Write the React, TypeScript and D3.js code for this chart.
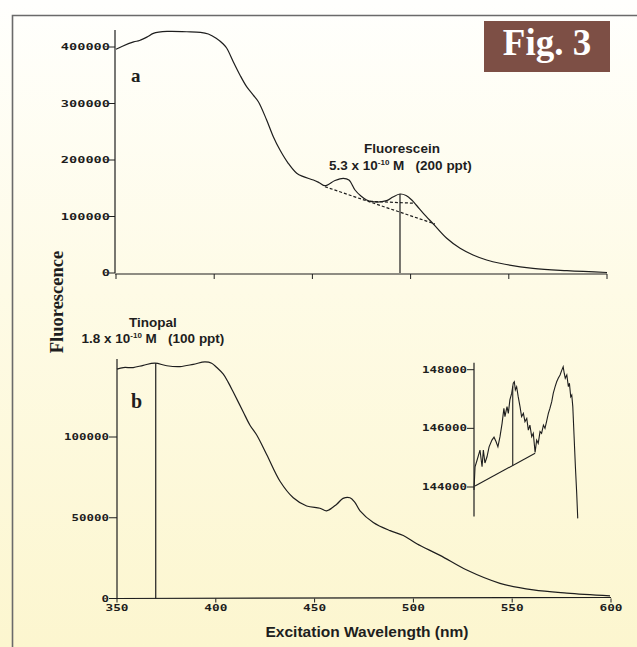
import React from 'react'
import * as d3 from 'd3'

// panel a : fluorescein excitation spectrum
const waveA = [350, 353, 359, 362, 366, 369, 376, 386, 393, 397, 401, 404.6, 406.4, 409.7, 413.1, 416.5, 419.9, 422.5, 426.7, 430.1, 433.5, 437.7, 442, 445.4, 450.5, 453.5, 456.4, 461.5, 465.7, 468.6, 471.7, 474.7, 477.6, 480.2, 487.8, 491, 494.6, 497.7, 500.6, 503.3, 506.5, 511.6, 518.4, 525.2, 531.8, 538.7, 545.5, 562.3, 579.6, 600]
const fluorA = [396000, 401000, 409000, 411500, 418000, 424000, 427500, 427000, 426000, 423000, 415500, 405300, 397700, 374000, 350500, 329800, 315000, 303200, 270800, 241300, 217700, 194200, 176500, 170500, 164600, 159800, 154500, 163700, 167600, 164600, 146900, 136300, 129200, 126200, 128000, 134500, 139800, 137200, 129200, 118600, 105700, 86700, 61400, 43700, 31900, 23000, 17200, 8300, 4100, 900]
const baseWaveA = [456.4, 512.4]
const baseValueA = [152700, 86700]
const levelWaveA = [479.3, 502.2]
const levelValueA = [126900, 123400]
const peakA = [494.6, 139800]

// panel b : tinopal excitation spectrum
const waveB = [350, 353.2, 358.2, 363.3, 369.2, 375.2, 381.9, 388.6, 394.5, 397.9, 400.5, 403.8, 406.3, 408.9, 413.9, 417.3, 420.7, 425.8, 432.5, 439.2, 446, 452.7, 456.1, 461.2, 464.4, 467.9, 470.4, 473, 479.7, 488.2, 494.9, 501.7, 513.5, 527, 543.8, 560.7, 577.6, 599.5]
const fluorB = [142000, 143000, 143000, 144400, 145700, 144100, 143600, 145000, 146500, 145700, 143000, 138900, 133800, 127700, 115500, 107300, 101200, 89000, 72600, 62400, 57300, 55900, 54300, 58400, 62000, 62400, 59500, 54300, 47100, 42000, 39000, 33900, 26700, 17600, 9400, 5300, 3300, 1600]
const peakB = [369.6, 145700]

// inset : enlarged tinopal peak
const waveI = [430, 430.4, 431.2, 432.3, 433.1, 433.6, 434.2, 435, 435.8, 436.9, 437.7, 438.5, 439.2, 440, 440.8, 441.5, 441.9, 442.7, 443.2, 443.8, 444.5, 445.1, 445.5, 445.9, 446.4, 447, 447.7, 448.3, 449, 449.6, 450.3, 450.9, 451.5, 452.2, 452.8, 453.5, 454.1, 454.7, 455.4, 456, 456.7, 457.3, 457.9, 458.6, 459.2, 459.9, 460.5, 461.2, 461.8, 462.4, 463.1, 463.7, 464.3, 464.7, 465.1, 465.7, 466.3, 466.7, 467.2, 467.6, 468, 468.5, 469, 469.5, 469.9]
const fluorI = [143900, 144690, 144920, 145260, 144690, 145260, 144820, 145030, 145370, 145600, 145700, 145545, 145370, 145715, 146170, 146680, 146400, 146740, 146510, 146970, 147200, 147540, 147590, 147310, 147420, 147080, 146740, 146400, 146510, 146230, 146340, 145940, 146110, 145715, 145830, 145180, 145600, 145490, 145890, 145830, 146110, 146000, 146230, 146510, 146680, 146910, 147200, 147420, 147590, 147710, 147820, 147970, 148100, 147880, 147710, 147820, 147420, 147540, 147080, 147140, 146740, 145715, 144690, 143785, 142930]
const baseWaveI = [430.4, 453.5]
const baseValueI = [144034, 145150]
const peakI = 444.9

const ticksX = [350, 400, 450, 500, 550, 600]
const ticksA = [0, 100000, 200000, 300000, 400000]
const ticksB = [0, 50000, 100000]
const ticksI = [144000, 146000, 148000]

const mono = '"DejaVu Sans Mono", monospace'
const sans = '"Liberation Sans", Arial, sans-serif'
const serif = '"Liberation Serif", "Times New Roman", serif'
const ink = '#1e1e1e'

function Mono({ x, y, text, per, anchor = 'end' }) {
  return (
    <text x={x} y={y} fontFamily={mono} fontWeight="bold" fontSize={8.6} fill={ink}
      textAnchor={anchor} textLength={text.length * per} lengthAdjust="spacingAndGlyphs">
      {text}
    </text>
  )
}

export default function App() {
  const width = 637
  const height = 647

  // scales
  const xA = d3.scaleLinear().domain([350, 600]).range([116, 607])
  const yA = d3.scaleLinear().domain([0, 400000]).range([273, 47])
  const xB = d3.scaleLinear().domain([350, 600]).range([117, 611])
  const yB = d3.scaleLinear().domain([0, 100000]).range([598.5, 437])
  const xI = d3.scaleLinear().domain([430, 470]).range([474, 578])
  const yI = d3.scaleLinear().domain([144000, 148000]).range([487, 369.7])

  const smooth = d3.curveCatmullRom.alpha(0.5)
  const lineA = d3.line().x((d, i) => xA(waveA[i])).y(d => yA(d)).curve(smooth)
  const lineB = d3.line().x((d, i) => xB(waveB[i])).y(d => yB(d)).curve(smooth)
  const lineI = d3.line().x((d, i) => xI(waveI[i])).y(d => yI(d))

  const baseAtPeakI = d3.scaleLinear().domain(baseWaveI).range(baseValueI)(peakI)
  const peakValueI = d3.scaleLinear().domain(waveI).range(fluorI)(peakI)

  return (
    <svg width={width} height={height} style={{ position: 'absolute', left: 0, top: 0 }}>
      <defs>
        <linearGradient id="bg" x1="0" y1="0" x2="0" y2="1">
          <stop offset="0" stopColor="#fffffd" />
          <stop offset="0.45" stopColor="#fefbe6" />
          <stop offset="1" stopColor="#fcf6cf" />
        </linearGradient>
      </defs>
      <rect width={width} height={height} fill="url(#bg)" />
      <path d="M12.5,647 V15.5 H637" fill="none" stroke="#6a6a6a" strokeWidth={1.6} />

      {/* panel a */}
      <line x1={xA(350) - 1} x2={xA(350) - 1} y1={30} y2={yA(0)} stroke={ink} strokeWidth={1.2} />
      <line x1={xA(350) - 1} x2={xA(600)} y1={yA(0) + 1} y2={yA(0) + 1} stroke={ink} strokeWidth={1.2} />
      {ticksX.map(t => (
        <line key={t} x1={xA(t)} x2={xA(t)} y1={yA(0) + 1} y2={yA(0) + 6} stroke={ink} strokeWidth={1} />
      ))}
      {ticksA.map(t => (
        <g key={t}>
          <line x1={xA(350) - 7} x2={xA(350) - 1} y1={yA(t)} y2={yA(t)} stroke={ink} strokeWidth={1} />
          <Mono x={xA(350) - 6} y={yA(t) + 3} text={String(t)} per={8.2} />
        </g>
      ))}
      <path d={lineA(fluorA)} fill="none" stroke={ink} strokeWidth={1.2} />
      <line x1={xA(baseWaveA[0])} y1={yA(baseValueA[0])} x2={xA(baseWaveA[1])} y2={yA(baseValueA[1])}
        stroke={ink} strokeWidth={1.2} strokeDasharray="3,2" />
      <line x1={xA(levelWaveA[0])} y1={yA(levelValueA[0])} x2={xA(levelWaveA[1])} y2={yA(levelValueA[1])}
        stroke={ink} strokeWidth={1.2} strokeDasharray="3,2" />
      <line x1={xA(peakA[0])} x2={xA(peakA[0])} y1={yA(peakA[1])} y2={yA(0)} stroke={ink} strokeWidth={1.2} />
      <text x={131} y={82} fontFamily={serif} fontWeight="bold" fontSize={19} fill={ink}>a</text>
      <text x={402} y={152.5} fontFamily={sans} fontWeight="bold" fontSize={13.5} fill={ink} textAnchor="middle">Fluorescein</text>
      <text x={329} y={170} fontFamily={sans} fontWeight="bold" fontSize={13.5} fill={ink} style={{ whiteSpace: 'pre' }}>
        5.3 x 10<tspan fontSize={8} dy={-5}>-10</tspan><tspan dy={5}> M   (200 ppt)</tspan>
      </text>

      {/* panel b */}
      <line x1={xB(350)} x2={xB(350)} y1={359} y2={yB(0)} stroke={ink} strokeWidth={1.2} />
      <line x1={xB(350)} x2={xB(600)} y1={yB(0)} y2={yB(0) - 1} stroke={ink} strokeWidth={1.2} />
      {ticksX.map(t => (
        <g key={t}>
          <line x1={xB(t)} x2={xB(t)} y1={yB(0)} y2={yB(0) + 4} stroke={ink} strokeWidth={1} />
          <Mono x={xB(t)} y={611} text={String(t)} per={7.7} anchor="middle" />
        </g>
      ))}
      {ticksB.map(t => (
        <g key={t}>
          <line x1={xB(350) - 8} x2={xB(350)} y1={yB(t)} y2={yB(t)} stroke={ink} strokeWidth={1} />
          <Mono x={xB(350) - 8} y={yB(t) + 3} text={String(t)} per={7.5} />
        </g>
      ))}
      <path d={lineB(fluorB)} fill="none" stroke={ink} strokeWidth={1.2} />
      <line x1={xB(peakB[0])} x2={xB(peakB[0])} y1={yB(peakB[1])} y2={yB(0)} stroke={ink} strokeWidth={1.2} />
      <text x={131} y={408} fontFamily={serif} fontWeight="bold" fontSize={20} fill={ink}>b</text>
      <text x={153} y={326.5} fontFamily={sans} fontWeight="bold" fontSize={13.5} fill={ink} textAnchor="middle">Tinopal</text>
      <text x={81.5} y={342.5} fontFamily={sans} fontWeight="bold" fontSize={13.5} fill={ink} style={{ whiteSpace: 'pre' }}>
        1.8 x 10<tspan fontSize={8} dy={-5}>-10</tspan><tspan dy={5}> M   (100 ppt)</tspan>
      </text>

      {/* inset */}
      <line x1={xI(430)} x2={xI(430)} y1={yI(148240)} y2={yI(142990)} stroke={ink} strokeWidth={1.2} />
      {ticksI.map(t => (
        <g key={t}>
          <line x1={xI(430) - 7} x2={xI(430)} y1={yI(t)} y2={yI(t)} stroke={ink} strokeWidth={1} />
          <Mono x={xI(430) - 7} y={yI(t) + 3} text={String(t)} per={7.5} />
        </g>
      ))}
      <path d={lineI(fluorI)} fill="none" stroke={ink} strokeWidth={1.1} />
      <line x1={xI(baseWaveI[0])} y1={yI(baseValueI[0])} x2={xI(baseWaveI[1])} y2={yI(baseValueI[1])} stroke={ink} strokeWidth={1.1} />
      <line x1={xI(peakI)} x2={xI(peakI)} y1={yI(peakValueI)} y2={yI(baseAtPeakI)} stroke={ink} strokeWidth={1.1} />

      {/* titles */}
      <text transform="translate(63,302) rotate(-90)" fontFamily={serif} fontWeight="bold" fontSize={18.5} fill={ink} textAnchor="middle">Fluorescence</text>
      <text x={367} y={637} fontFamily={sans} fontWeight="bold" fontSize={15} fill={ink} textAnchor="middle"
        textLength={203} lengthAdjust="spacingAndGlyphs">Excitation Wavelength (nm)</text>

      <rect x={484} y={21} width={126} height={51} fill="#7d4f45" />
      <text x={547} y={55} fontFamily={serif} fontWeight="bold" fontSize={37} fill="#ffffff" textAnchor="middle">Fig. 3</text>
    </svg>
  )
}
